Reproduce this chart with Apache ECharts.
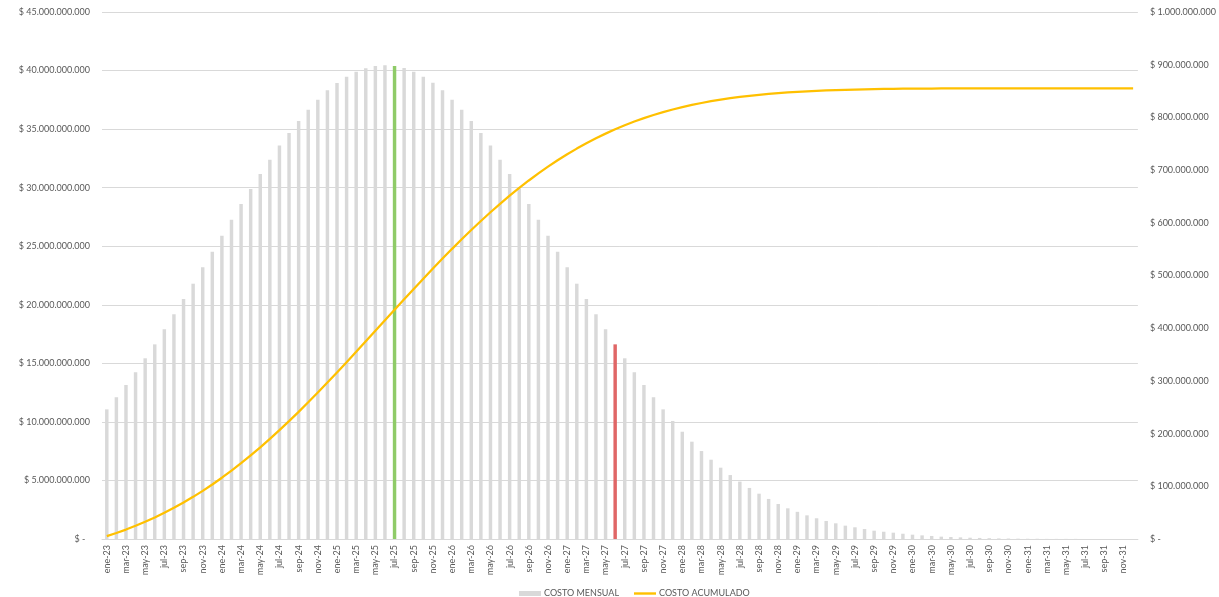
<!DOCTYPE html>
<html>
<head>
<meta charset="utf-8">
<title>Costo mensual y acumulado</title>
<script src="https://cdn.jsdelivr.net/npm/echarts@6/dist/echarts.min.js"></script>
<style>
  html, body { margin: 0; padding: 0; background: #ffffff; overflow: hidden; }
  #chart { width: 1219px; height: 597px; }
</style>
</head>
<body>
<div id="chart"></div>
<script>
// Month labels (Spanish abbreviations) and years covered by the schedule
const MONTHS = ['ene', 'feb', 'mar', 'abr', 'may', 'jun', 'jul', 'ago', 'sep', 'oct', 'nov', 'dic'];
const YEARS = ['23', '24', '25', '26', '27', '28', '29', '30', '31'];

// Monthly cost, in thousands of millions of pesos (ene-23 .. dic-31)
const costoMensual = [
  11.07, 12.10, 13.15, 14.23, 15.43, 16.62, 17.91, 19.19, 20.49, 21.80, 23.20, 24.53,
  25.90, 27.27, 28.61, 29.89, 31.17, 32.39, 33.59, 34.67, 35.69, 36.66, 37.51, 38.31,
  38.94, 39.48, 39.90, 40.19, 40.39, 40.45, 40.39, 40.22, 39.90, 39.48, 38.96, 38.31,
  37.51, 36.66, 35.69, 34.67, 33.59, 32.39, 31.17, 29.92, 28.61, 27.27, 25.90, 24.53,
  23.20, 21.80, 20.49, 19.19, 17.91, 16.62, 15.43, 14.23, 13.15, 12.10, 11.07, 10.08,
  9.16, 8.31, 7.51, 6.77, 6.09, 5.46, 4.90, 4.36, 3.87, 3.42, 2.99, 2.62,
  2.32, 2.02, 1.77, 1.54, 1.34, 1.14, 1.00, 0.85, 0.71, 0.62, 0.54, 0.45,
  0.37, 0.31, 0.26, 0.20, 0.17, 0.14, 0.11, 0.09, 0.07, 0.05, 0.04, 0.03,
  0.02, 0.02, 0.01, 0.01, 0.01, 0.01, 0, 0, 0, 0, 0, 0
];

// Accumulated cost, in millions of pesos (right axis)
const costoAcumulado = [
  5.5, 11.4, 17.9, 25.0, 32.6, 40.8, 49.6, 59.1, 69.2, 80.0, 91.4, 103.5,
  116.3, 129.8, 143.9, 158.6, 174.0, 190.0, 206.6, 223.7, 241.3, 259.4, 277.9, 296.8,
  316.1, 335.5, 355.2, 375.1, 395.0, 415.0, 434.9, 454.8, 474.5, 493.9, 513.2, 532.1,
  550.6, 568.7, 586.3, 603.4, 620.0, 636.0, 651.4, 666.1, 680.3, 693.7, 706.5, 718.6,
  730.1, 740.8, 750.9, 760.4, 769.2, 777.5, 785.1, 792.1, 798.6, 804.6, 810.0, 815.0,
  819.5, 823.6, 827.3, 830.7, 833.7, 836.4, 838.8, 840.9, 842.8, 844.5, 846.0, 847.3,
  848.4, 849.4, 850.3, 851.1, 851.7, 852.3, 852.8, 853.2, 853.6, 853.9, 854.1, 854.4,
  854.5, 854.7, 854.8, 854.9, 855.0, 855.1, 855.1, 855.2, 855.2, 855.3, 855.3, 855.3,
  855.3, 855.3, 855.3, 855.3, 855.3, 855.3, 855.3, 855.3, 855.3, 855.3, 855.3, 855.3
];

// Highlighted months: peak month (green) and cut-off month (red)
const mesVerde = 'jul-25';
const mesRojo = 'jun-27';

// Axis ranges
const LEFT_MAX = 45, LEFT_STEP = 5;       // thousands of millions
const RIGHT_MAX = 1000, RIGHT_STEP = 100; // millions

const categorias = [];
YEARS.forEach(y => MONTHS.forEach(m => categorias.push(m + '-' + y)));

function pesos(v) {
  if (Math.abs(v) < 0.5) return '$ -  ';
  return '$ ' + String(Math.round(v)).replace(/\B(?=(\d{3})+(?!\d))/g, '.');
}

const FONT = 'Lato';
const TEXT = '#595959';
const GRID = '#d9d9d9';

const barData = costoMensual.map((v, i) => {
  const c = categorias[i];
  if (c === mesVerde) return { value: v, itemStyle: { color: '#8fcb68' } };
  if (c === mesRojo) return { value: v, itemStyle: { color: '#e06666' } };
  return v;
});

// Thin horizontal stroke used as the legend marker of the line series
const LINE_ICON = 'path://M0,0 M0,1.3 L22,1.3 L22,3.7 L0,3.7 Z M22,5';

const chart = echarts.init(document.getElementById('chart'), null, { renderer: 'canvas' });
chart.setOption({
  animation: false,
  backgroundColor: '#ffffff',
  textStyle: { fontFamily: FONT },
  grid: { left: 102, right: 68, top: 12, bottom: 58, containLabel: false },
  legend: {
    left: 514,
    top: 584,
    itemWidth: 22,
    itemHeight: 5,
    itemGap: 15,
    textStyle: { color: TEXT, fontSize: 9, fontFamily: FONT, padding: [0, 0, 0, -2] },
    data: [
      { name: 'COSTO MENSUAL', icon: 'rect' },
      { name: 'COSTO ACUMULADO', icon: LINE_ICON }
    ]
  },
  xAxis: {
    type: 'category',
    data: categorias,
    boundaryGap: true,
    axisLine: { show: true, lineStyle: { color: GRID, width: 1 } },
    axisTick: { show: false },
    axisLabel: {
      interval: 1,
      rotate: 90,
      margin: 6,
      color: TEXT,
      fontSize: 9,
      fontFamily: FONT
    },
    splitLine: { show: false }
  },
  yAxis: [
    {
      type: 'value',
      min: 0,
      max: LEFT_MAX,
      interval: LEFT_STEP,
      axisLine: { show: false },
      axisTick: { show: false },
      axisLabel: {
        color: TEXT,
        fontSize: 9,
        fontFamily: FONT,
        margin: 12,
        formatter: v => pesos(v * 1e9)
      },
      splitLine: { show: true, lineStyle: { color: GRID, width: 1 } }
    },
    {
      type: 'value',
      min: 0,
      max: RIGHT_MAX,
      interval: RIGHT_STEP,
      position: 'right',
      axisLine: { show: false },
      axisTick: { show: false },
      axisLabel: {
        color: TEXT,
        fontSize: 9,
        fontFamily: FONT,
        margin: 12,
        formatter: v => pesos(v * 1e6).trim()
      },
      splitLine: { show: false }
    }
  ],
  series: [
    {
      name: 'COSTO MENSUAL',
      type: 'bar',
      yAxisIndex: 0,
      data: barData,
      barWidth: '36%',
      itemStyle: { color: '#d9d9d9' },
      emphasis: { disabled: true }
    },
    {
      name: 'COSTO ACUMULADO',
      type: 'line',
      yAxisIndex: 1,
      data: costoAcumulado,
      symbol: 'none',
      showSymbol: false,
      lineStyle: { color: '#ffc000', width: 2.25 },
      itemStyle: { color: '#ffc000' },
      emphasis: { disabled: true }
    }
  ]
});
</script>
</body>
</html>
